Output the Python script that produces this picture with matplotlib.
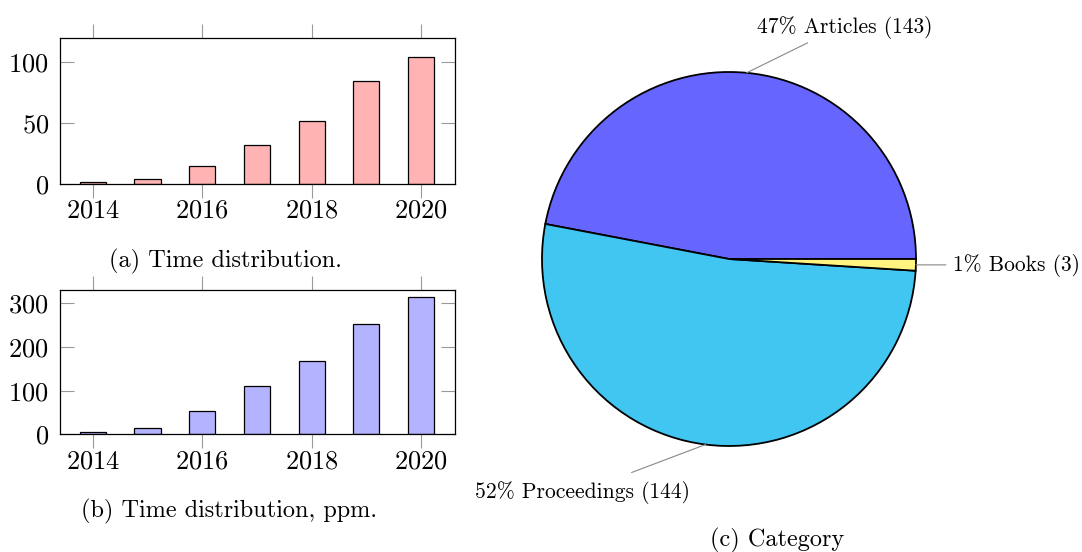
import numpy as np
import matplotlib
matplotlib.use("Agg")
import matplotlib.pyplot as plt

plt.rcParams['font.family'] = ['cmr10', 'DejaVu Serif']
plt.rcParams['axes.formatter.use_mathtext'] = True

years = [2014, 2015, 2016, 2017, 2018, 2019, 2020]
papers = [2, 4, 15, 32, 52, 85, 104]
papers_ppm = [6, 14, 54, 110, 167, 253, 315]

categories = ['Articles', 'Proceedings', 'Books']
shares = [47, 52, 1]          # percent
counts = [143, 144, 3]

fig = plt.figure(figsize=(10.82, 5.52), dpi=100)


def bar_panel(rect, values, color, ymax, yticks):
    ax = fig.add_axes(rect)
    ax.bar(years, values, width=0.48, color=color, edgecolor='black', linewidth=0.9, zorder=2)
    ax.set_xlim(2013.4, 2020.62)
    ax.set_ylim(0, ymax)
    ax.set_xticks([2014, 2016, 2018, 2020])
    ax.set_yticks(yticks)
    ax.tick_params(axis='x', top=True, direction='out', length=10, width=0.8,
                   color='#999999', labelsize=19, pad=1)
    ax.tick_params(axis='y', right=True, direction='in', length=10, width=0.8,
                   color='#999999', labelsize=19, pad=8)
    for s in ax.spines.values():
        s.set_linewidth(0.9)
    return ax


bar_panel([0.0555, 0.6667, 0.365, 0.2645], papers, '#FFB3B3', 120, [0, 50, 100])
bar_panel([0.0555, 0.2129, 0.365, 0.2617], papers_ppm, '#B3B3FF', 330, [0, 100, 200, 300])

fig.text(0.208, 1 - 261 / 552, '(a) Time distribution.', ha='center', va='center', fontsize=17.5)
fig.text(0.212, 1 - 511 / 552, '(b) Time distribution, ppm.', ha='center', va='center', fontsize=17.5)

# pie chart
cx, cy, r = 729 / 1082, 1 - 259 / 552, 187
pw, ph = 2 * r / 1082, 2 * r / 552
ax = fig.add_axes([cx - pw / 2, cy - ph / 2, pw, ph])
wedges, _ = ax.pie(shares, colors=['#6666FF', '#41C6F2', '#FFF480'], startangle=0,
                   counterclock=True, radius=1,
                   wedgeprops=dict(edgecolor='black', linewidth=1.3))
ax.set_xlim(-1, 1)
ax.set_ylim(-1, 1)
ax.set_aspect('equal')
ax.axis('off')

line_off = [(61, 30), (-74, -28), (30, 0)]
text_off = [(98, 45), (-123, -48), (37, -1)]
aligns = ['center', 'center', 'left']
for w, name, pct, n, lo, to, ha in zip(wedges, categories, shares, counts, line_off, text_off, aligns):
    mid = np.deg2rad((w.theta1 + w.theta2) / 2)
    xy = (np.cos(mid), np.sin(mid))
    ax.annotate('', xy=xy, xytext=lo, textcoords='offset pixels',
                arrowprops=dict(arrowstyle='-', color='#888888', lw=0.8,
                                shrinkA=0, shrinkB=0), annotation_clip=False)
    ax.annotate(f'{pct}% {name} ({n})', xy=xy, xytext=to, textcoords='offset pixels',
                ha=ha, va='center', fontsize=15.5, annotation_clip=False)

fig.text(777 / 1082, 1 - 540 / 552, '(c) Category', ha='center', va='center', fontsize=17.5)

fig.savefig('out.png', dpi=100)
